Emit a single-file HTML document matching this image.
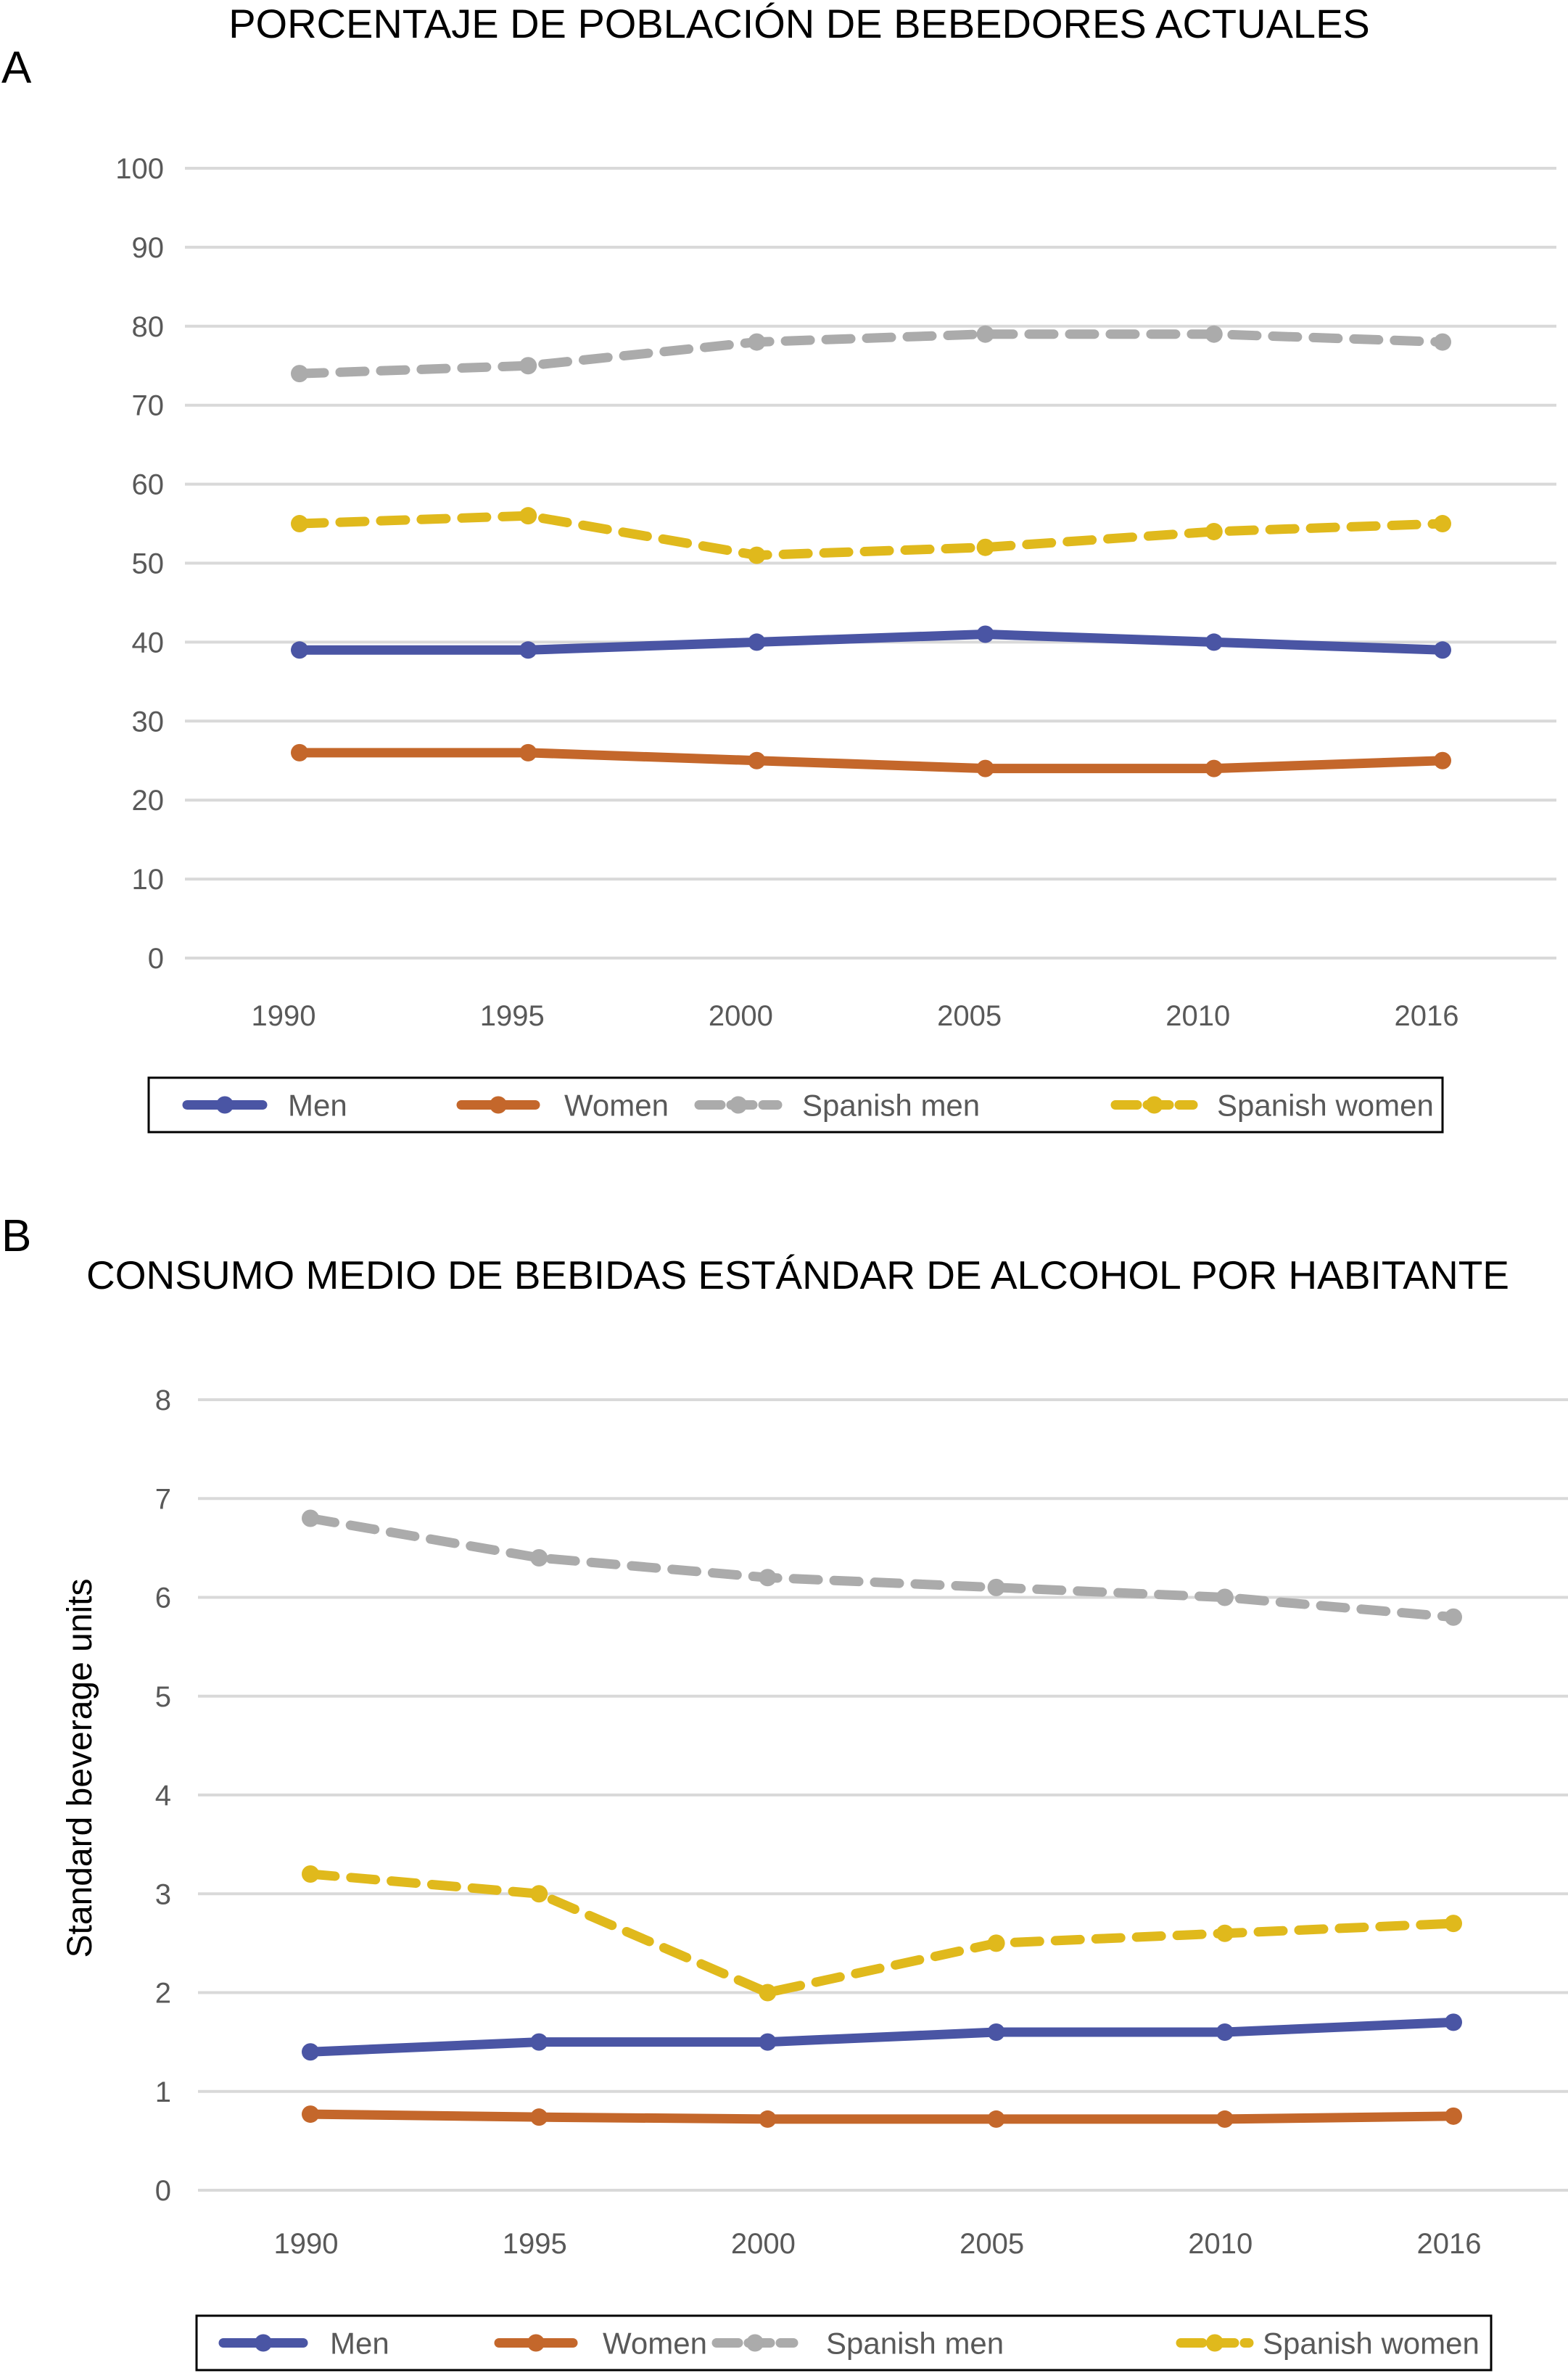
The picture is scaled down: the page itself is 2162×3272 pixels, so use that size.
<!DOCTYPE html>
<html><head><meta charset="utf-8">
<style>
html,body{margin:0;padding:0;background:#fff;}
svg{display:block;font-family:"Liberation Sans",sans-serif;}
</style></head>
<body>
<svg id="svg" width="2162" height="3272" viewBox="0 0 2162 3272" xmlns="http://www.w3.org/2000/svg">
<rect width="2162" height="3272" fill="#fff"/>
<text x="2" y="114" font-size="62" fill="#000">A</text>
<text x="1102" y="52" font-size="56" text-anchor="middle" fill="#000">PORCENTAJE DE POBLACIÓN DE BEBEDORES ACTUALES</text>
<text x="2" y="1725" font-size="62" fill="#000">B</text>
<text x="1100" y="1777" font-size="55" text-anchor="middle" fill="#000">CONSUMO MEDIO DE BEBIDAS ESTÁNDAR DE ALCOHOL POR HABITANTE</text>
<text x="0" y="0" font-size="48" text-anchor="middle" fill="#000" transform="translate(126,2438) rotate(-90)">Standard beverage units</text>
<g id="ga"></g>
<g id="gb"></g>
</svg>
<script>
const years = ["1990","1995","2000","2005","2010","2016"];
const aMen = [39,39,40,41,40,39];
const aWomen = [26,26,25,24,24,25];
const aSpMen = [74,75,78,79,79,78];
const aSpWomen = [55,56,51,52,54,55];
const aTicks = [0,10,20,30,40,50,60,70,80,90,100];
const bMen = [1.4,1.5,1.5,1.6,1.6,1.7];
const bWomen = [0.77,0.74,0.72,0.72,0.72,0.75];
const bSpMen = [6.8,6.4,6.2,6.1,6.0,5.8];
const bSpWomen = [3.2,3.0,2.0,2.5,2.6,2.7];
const bTicks = [0,1,2,3,4,5,6,7,8];
const seriesNames = ["Men","Women","Spanish men","Spanish women"];

const NS="http://www.w3.org/2000/svg";
function mk(parent,tag,attrs){const e=document.createElementNS(NS,tag);for(const k in attrs)e.setAttribute(k,attrs[k]);parent.appendChild(e);return e;}
const colors=["#4a55a4","#c4672b","#ababab","#e0b91c"];
const dashed=[false,false,true,true];

function chart(g,cfg){
  const y=v=>cfg.y0+(cfg.y1-cfg.y0)*(v/cfg.max);
  const x=i=>cfg.xa+(cfg.xb-cfg.xa)*i/(years.length-1);
  cfg.ticks.forEach(t=>{
    const l=mk(g,'line',{x1:cfg.gl,x2:cfg.gr,y1:y(t),y2:y(t),stroke:'#d9d9d9','stroke-width':4});
    
    
    const tx=mk(g,'text',{x:cfg.tickX,y:y(t)+14,'font-size':40,'text-anchor':'end',fill:'#595959'});
    tx.textContent=t;
    
    
  });
  years.forEach((yr,i)=>{
    const tx=mk(g,'text',{x:x(i)+cfg.yearOff,y:cfg.yearY,'font-size':40,'text-anchor':'middle',fill:'#595959'});
    tx.textContent=yr;
    
    
  });
  cfg.series.forEach((s,si)=>{
    const pts=s.map((v,i)=>x(i)+','+y(v)).join(' ');
    const pl=mk(g,'polyline',{points:pts,fill:'none',stroke:colors[si],'stroke-width':13,'stroke-linejoin':'round','stroke-linecap':'round'});
    if(dashed[si])pl.setAttribute('stroke-dasharray','34 22');
    
    
    s.forEach((v,i)=>{
      const c=mk(g,'circle',{cx:x(i),cy:y(v),r:12,fill:colors[si]});
      
      
    });
  });
  const L=cfg.leg;
  const box=mk(g,'rect',{x:L.x,y:L.y,width:L.w,height:L.h,fill:'#fff',stroke:'#000','stroke-width':3});
  
  
  const cy=L.y+L.h/2;
  seriesNames.forEach((n,si)=>{
    const e=L.items[si];
    const ln=mk(g,'line',{x1:e[0],x2:e[1],y1:cy,y2:cy,stroke:colors[si],'stroke-width':13,'stroke-linecap':'round'});
    if(dashed[si])ln.setAttribute('stroke-dasharray','30 14');
    
    
    const c=mk(g,'circle',{cx:(e[0]+e[1])/2,cy:cy,r:12,fill:colors[si]});
    
    
    const t=mk(g,'text',{x:e[2],y:cy+15,'font-size':42,fill:'#595959'});
    t.textContent=n;
    
    
  });
}
chart(document.getElementById('ga'),{y0:1321,y1:232,max:100,ticks:aTicks,gl:255,gr:2146,xa:413,xb:1989,tickX:226,yearY:1414,yearOff:-22,
  series:[aMen,aWomen,aSpMen,aSpWomen],
  leg:{x:205,y:1486,w:1784,h:75,items:[[258,362,397],[636,738,778],[964,1072,1106],[1538,1645,1678]]}});
chart(document.getElementById('gb'),{y0:3020,y1:1930,max:8,ticks:bTicks,gl:273,gr:2162,xa:428,xb:2004,tickX:236,yearY:3107,yearOff:-6,
  series:[bMen,bWomen,bSpMen,bSpWomen],
  leg:{x:271,y:3193,w:1785,h:75,items:[[308,418,455],[688,790,831],[988,1094,1139],[1628,1722,1741]]}});
</script>
</body></html>
